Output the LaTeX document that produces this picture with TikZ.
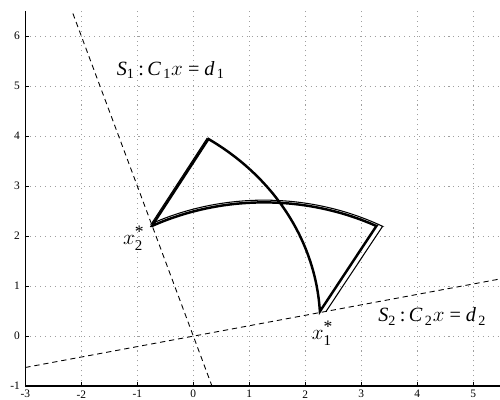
\documentclass[tikz,border=0pt]{standalone}
\usepackage{fontspec}
\setmainfont{Liberation Serif}
\begin{document}
\begin{tikzpicture}[x=1.12cm,y=1cm,
  gridline/.style={gray!75, line width=0.5pt, dash pattern=on 0.6pt off 2.2pt},
  axisline/.style={black, line width=0.7pt},
  tickline/.style={black, line width=0.5pt},
  planeline/.style={black, line width=0.5pt, dash pattern=on 3pt off 2.2pt},
  thickpath/.style={black, line width=1.4pt, line join=miter},
  thinpath/.style={black, line width=0.6pt},
  ticklab/.style={font=\fontsize{6.5}{7}\selectfont, inner sep=0pt},
  lab/.style={font=\fontsize{11.5}{13}\selectfont, inner sep=0pt}]
\useasboundingbox (-3.452,-1.28) rectangle (5.477,6.72);
% grid
\foreach \i in {-2,...,5} \draw[gridline] (\i,-1) -- (\i,6.5);
\foreach \j in {0,...,6} \draw[gridline] (-3,\j) -- (5.477,\j);
% axes
\coordinate (axtop) at (-3,6.5);
\coordinate (axorig) at (-3,-1);
\coordinate (axright) at (5.477,-1);
\draw[axisline] (axtop) -- (axorig) -- (axright);
\foreach \i in {-3,...,5} {
  \draw[tickline] (\i,-1) -- (\i,-0.93);
  \node[ticklab] (xt\i) at (\i,-1.165) {\i};
}
\foreach \j in {-1,...,6} {
  \draw[tickline] (-3,\j) -- (-2.94,\j);
  \node[ticklab, anchor=east] (yt\j) at (-3.09,\j) {\j};
}
% hyperplanes
\coordinate (sonea) at (-2.15,6.45);
\coordinate (soneb) at (0.333,-1);
\coordinate (stwoa) at (-3,-0.63);
\coordinate (stwob) at (5.477,1.14);
\draw[planeline] (sonea) -- (soneb);
\draw[planeline] (stwoa) -- (stwob);
% paths
\coordinate (xtwo) at (-0.74,2.2);
\coordinate (top) at (0.27,3.94);
\coordinate (corner) at (3.27,2.2);
\coordinate (xonethin) at (2.37,0.49);
\coordinate (cornerthin) at (3.38,2.193);
\coordinate (topthin) at (0.25,3.96);
\draw[thickpath] (xtwo) -- (top)
  -- plot[domain=56.87:3.09, samples=50] ({-2.136+4.403*cos(\x)},{0.2527+4.403*sin(\x)})
  -- (corner)
  -- plot[domain=63.5:116.5, samples=50] ({1.265+4.492*cos(\x)},{-1.82+4.492*sin(\x)})
  -- cycle;
\draw[thinpath] (xonethin) -- (cornerthin)
  -- plot[domain=62.2:116.3, samples=50] ({1.265+4.537*cos(\x)},{-1.82+4.537*sin(\x)})
  -- (topthin);
% labels
\node[lab] (lblone) at (-0.40,5.32) {\textit{S}\textsubscript{1}\,:\,\textit{C}\textsubscript{\,1}$x$ = \textit{d}\textsubscript{\,1}};
\node[lab] (lbltwo) at (4.27,0.39) {\textit{S}\textsubscript{2}\,:\,\textit{C}\textsubscript{\,2}$x$ = \textit{d}\textsubscript{\,2}};
\node[lab] (xonelab) at (2.31,0.06) {$x^{\mbox{\fontsize{10}{10}\selectfont *}}_{\mbox{\fontsize{8.5}{9}\selectfont 1}}$};
\node[lab] (xtwolab) at (-1.06,1.96) {$x^{\mbox{\fontsize{10}{10}\selectfont *}}_{\mbox{\fontsize{8.5}{9}\selectfont 2}}$};
\end{tikzpicture}
\end{document}
